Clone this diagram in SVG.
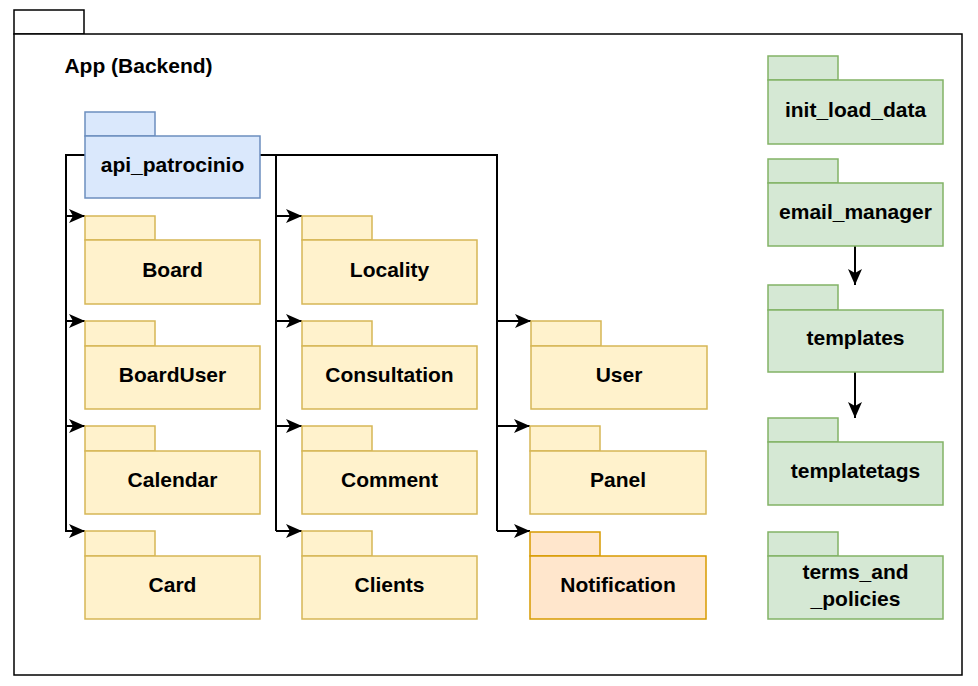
<svg xmlns="http://www.w3.org/2000/svg" width="978" height="686" viewBox="0 0 978 686">
<style>
.y{fill:#fff2cc;stroke:#d6b656;stroke-width:1.5}
.b{fill:#dae8fc;stroke:#6c8ebf;stroke-width:1.5}
.g{fill:#d5e8d4;stroke:#82b366;stroke-width:1.5}
.o{fill:#ffe6cc;stroke:#d79b00;stroke-width:1.5}
.w{fill:#ffffff;stroke:#000000;stroke-width:1.5}
text{font-family:"Liberation Sans",Arial,sans-serif;font-weight:bold;font-size:21px;fill:#000;text-anchor:middle;dominant-baseline:central}
.c{fill:none;stroke:#000;stroke-width:2}
</style>
<defs>
<marker id="ar" viewBox="0 0 16 14" refX="16" refY="7" markerWidth="16" markerHeight="14" markerUnits="userSpaceOnUse" orient="auto">
<path d="M0,0 L16,7 L0,14 L4,7 Z" fill="#000"/>
</marker>
</defs>
<rect width="978" height="686" fill="#fff"/>
<g id="app">
<rect class="w" x="14" y="10" width="70" height="24"/>
<rect class="w" x="14" y="34" width="948" height="641"/>
<text x="138.5" y="65">App (Backend)</text>
</g>
<g id="connectors">
<path class="c" d="M85,155 H66 V532"/>
<path class="c" d="M66,216 H85" marker-end="url(#ar)"/>
<path class="c" d="M66,321 H85" marker-end="url(#ar)"/>
<path class="c" d="M66,426 H85" marker-end="url(#ar)"/>
<path class="c" d="M66,531 H85" marker-end="url(#ar)"/>
<path class="c" d="M260,155 H497 V531"/>
<path class="c" d="M276,155 V531"/>
<path class="c" d="M276,216 H302" marker-end="url(#ar)"/>
<path class="c" d="M276,321 H302" marker-end="url(#ar)"/>
<path class="c" d="M276,426 H302" marker-end="url(#ar)"/>
<path class="c" d="M276,531 H302" marker-end="url(#ar)"/>
<path class="c" d="M497,321 H531" marker-end="url(#ar)"/>
<path class="c" d="M497,426 H530" marker-end="url(#ar)"/>
<path class="c" d="M497,531 H530" marker-end="url(#ar)"/>
<path class="c" d="M855,246 V285" marker-end="url(#ar)"/>
<path class="c" d="M855,372 V418" marker-end="url(#ar)"/>
</g>
<g id="api_patrocinio">
<rect class="b" x="85" y="112" width="70" height="24"/>
<rect class="b" x="85" y="136" width="175" height="62"/>
<text x="172.5" y="164">api_patrocinio</text>
</g>
<g id="Board">
<rect class="y" x="85" y="216" width="70" height="24"/>
<rect class="y" x="85" y="240" width="175" height="64"/>
<text x="172.5" y="269">Board</text>
</g>
<g id="BoardUser">
<rect class="y" x="85" y="321" width="70" height="25"/>
<rect class="y" x="85" y="346" width="175" height="63"/>
<text x="172.5" y="374">BoardUser</text>
</g>
<g id="Calendar">
<rect class="y" x="85" y="426" width="70" height="25"/>
<rect class="y" x="85" y="451" width="175" height="63"/>
<text x="172.5" y="479">Calendar</text>
</g>
<g id="Card">
<rect class="y" x="85" y="531" width="70" height="25"/>
<rect class="y" x="85" y="556" width="175" height="63"/>
<text x="172.5" y="584">Card</text>
</g>
<g id="Locality">
<rect class="y" x="302" y="216" width="70" height="24"/>
<rect class="y" x="302" y="240" width="175" height="64"/>
<text x="389.5" y="269">Locality</text>
</g>
<g id="Consultation">
<rect class="y" x="302" y="321" width="70" height="25"/>
<rect class="y" x="302" y="346" width="175" height="63"/>
<text x="389.5" y="374">Consultation</text>
</g>
<g id="Comment">
<rect class="y" x="302" y="426" width="70" height="25"/>
<rect class="y" x="302" y="451" width="175" height="63"/>
<text x="389.5" y="479">Comment</text>
</g>
<g id="Clients">
<rect class="y" x="302" y="531" width="70" height="25"/>
<rect class="y" x="302" y="556" width="175" height="63"/>
<text x="389.5" y="584">Clients</text>
</g>
<g id="User">
<rect class="y" x="531" y="321" width="70" height="25"/>
<rect class="y" x="531" y="346" width="176" height="63"/>
<text x="619" y="374">User</text>
</g>
<g id="Panel">
<rect class="y" x="530" y="426" width="70" height="25"/>
<rect class="y" x="530" y="451" width="176" height="63"/>
<text x="618" y="479">Panel</text>
</g>
<g id="Notification">
<rect class="o" x="530" y="532" width="70" height="24"/>
<rect class="o" x="530" y="556" width="176" height="63"/>
<text x="618" y="584">Notification</text>
</g>
<g id="init_load_data">
<rect class="g" x="768" y="56" width="70" height="24"/>
<rect class="g" x="768" y="80" width="175" height="64"/>
<text x="855.5" y="109">init_load_data</text>
</g>
<g id="email_manager">
<rect class="g" x="768" y="159" width="70" height="24"/>
<rect class="g" x="768" y="183" width="175" height="63"/>
<text x="855.5" y="211">email_manager</text>
</g>
<g id="templates">
<rect class="g" x="768" y="285" width="70" height="25"/>
<rect class="g" x="768" y="310" width="175" height="62"/>
<text x="855.5" y="337">templates</text>
</g>
<g id="templatetags">
<rect class="g" x="768" y="418" width="70" height="24"/>
<rect class="g" x="768" y="442" width="175" height="63"/>
<text x="855.5" y="470">templatetags</text>
</g>
<g id="terms_and_policies">
<rect class="g" x="768" y="532" width="70" height="24"/>
<rect class="g" x="768" y="556" width="175" height="63"/>
<text x="855.5" y="571">terms_and</text>
<text x="855.5" y="598">_policies</text>
</g>
</svg>
